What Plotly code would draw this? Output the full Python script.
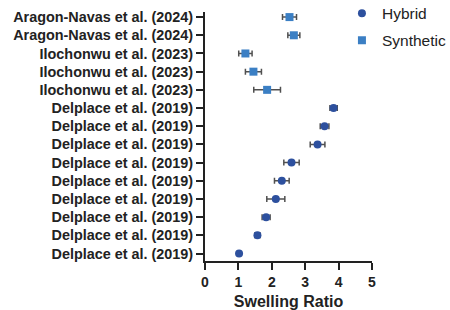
import plotly.graph_objects as go

studies = [
    "Aragon-Navas et al. (2024)",
    "Aragon-Navas et al. (2024)",
    "Ilochonwu et al. (2023)",
    "Ilochonwu et al. (2023)",
    "Ilochonwu et al. (2023)",
    "Delplace et al. (2019)",
    "Delplace et al. (2019)",
    "Delplace et al. (2019)",
    "Delplace et al. (2019)",
    "Delplace et al. (2019)",
    "Delplace et al. (2019)",
    "Delplace et al. (2019)",
    "Delplace et al. (2019)",
    "Delplace et al. (2019)",
]
# row order: top to bottom
types = ["Synthetic"] * 5 + ["Hybrid"] * 9
swelling = [2.53, 2.66, 1.21, 1.45, 1.86, 3.85, 3.58, 3.37, 2.59, 2.30, 2.12, 1.83, 1.57, 1.02]
errors = [0.21, 0.18, 0.20, 0.24, 0.40, 0.11, 0.13, 0.22, 0.23, 0.22, 0.27, 0.12, 0.08, 0.03]
x_ticks = [0, 1, 2, 3, 4, 5]

n = len(studies)
ypos = [n - 1 - i for i in range(n)]

fig = go.Figure()
styles = {
    "Hybrid": dict(symbol="circle", color="#2d509e"),
    "Synthetic": dict(symbol="square", color="#3b7fc4"),
}
for name in ["Hybrid", "Synthetic"]:
    idx = [i for i in range(n) if types[i] == name]
    fig.add_trace(go.Scatter(
        x=[swelling[i] for i in idx],
        y=[ypos[i] for i in idx],
        mode="markers",
        name=name,
        legendgroup=name,
        marker=dict(symbol=styles[name]["symbol"], color=styles[name]["color"], size=8),
        error_x=dict(type="data", array=[errors[i] for i in idx], color="#505050",
                     thickness=1.5, width=3),
    ))

fig.update_layout(
    width=450, height=310,
    margin=dict(l=205, r=78, t=12, b=49, autoexpand=False),
    plot_bgcolor="white", paper_bgcolor="white",
    font=dict(family="Liberation Sans, Arial, sans-serif", color="#222"),
    showlegend=True,
    legend=dict(x=0.82, y=1.062, xanchor="left", yanchor="top",
                font=dict(size=15.5, color="#222"), bgcolor="rgba(0,0,0,0)",
                tracegroupgap=4, itemwidth=30, borderwidth=0),
)
fig.update_xaxes(
    range=[0, 5], tickvals=x_ticks, ticktext=[str(v) for v in x_ticks],
    showgrid=False, zeroline=False, showline=True, linecolor="#222", linewidth=2,
    ticks="outside", ticklen=7, tickwidth=2, tickcolor="#222",
    tickfont=dict(size=14, family="Liberation Sans, Arial, sans-serif", weight="bold", color="#222"),
    title=dict(text="Swelling Ratio", font=dict(size=16, weight="bold", color="#222"), standoff=14),
    automargin=False,
)
fig.update_yaxes(
    range=[-0.41, n - 1 + 0.28], tickvals=ypos, ticktext=studies,
    showgrid=False, zeroline=False, showline=True, linecolor="#222", linewidth=2,
    ticks="outside", ticklen=7, tickwidth=2, tickcolor="#222",
    tickfont=dict(size=14.4, family="Liberation Sans, Arial, sans-serif", weight="bold", color="#222"),
    automargin=False,
)
# remove the page's default body margin so the 450x310 figure fills the window
fig.write_html("out.html", config={"displayModeBar": False},
               post_script="document.body.style.margin='0';")
